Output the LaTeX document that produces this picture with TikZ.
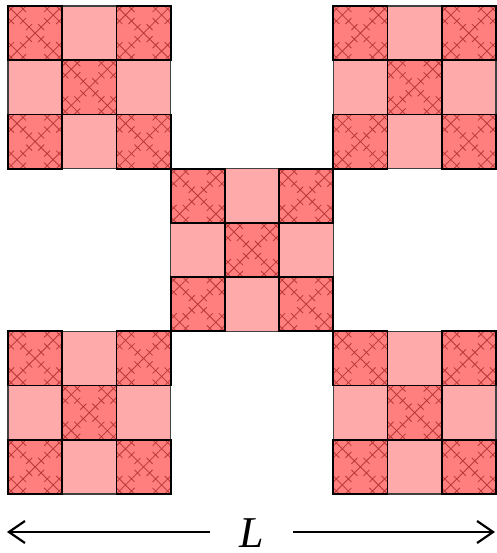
\documentclass[tikz,border=0pt]{standalone}
\usepackage{fontspec}
\setmainfont{Liberation Serif}
\usetikzlibrary{arrows.meta}
\definecolor{darkcell}{HTML}{FF7F7F}
\definecolor{lightcell}{HTML}{FFAAAA}
\definecolor{patcol}{HTML}{A82828}

\begin{document}
\begin{tikzpicture}[x=1pt,y=-1pt,
  dk/.style={fill=darkcell},
  dkline/.style={draw=black,line width=1.8pt},
  lt/.style={fill=lightcell,draw=black!75,line width=1.1pt},
  pat/.style={draw=patcol,line width=0.8pt,opacity=0.8},
  arr/.style={line width=2.2pt,-{Straight Barb[length=16pt,width=22pt]}},
]
\useasboundingbox (0,0) rectangle (496,553);
\def\s{54.22}
% five blocks of the X fractal
\foreach \bx/\by in {0/0,2/0,1/1,0/2,2/2}{
  % light cells
  \foreach \cx/\cy in {1/0,0/1,2/1,1/2}{
    \pgfmathsetmacro\xa{8+(3*\bx+\cx)*\s}
    \pgfmathsetmacro\ya{6+(3*\by+\cy)*\s}
    \draw[lt] (\xa,\ya) rectangle ++(\s,\s);
  }
  % dark cells with the small X pattern inside
  \foreach \cx/\cy in {0/0,2/0,1/1,0/2,2/2}{
    \pgfmathsetmacro\xa{8+(3*\bx+\cx)*\s}
    \pgfmathsetmacro\ya{6+(3*\by+\cy)*\s}
    \fill[dk] (\xa,\ya) rectangle ++(\s,\s);
    \foreach \px/\py in {0/0,2/0,1/1,0/2,2/2}
      \foreach \qx/\qy in {0/0,2/0,1/1,0/2,2/2}{
        \pgfmathsetmacro\xb{\xa+\px*\s/3+\qx*\s/9}
        \pgfmathsetmacro\yb{\ya+\py*\s/3+\qy*\s/9}
        \draw[pat] (\xb,\yb) -- ++(\s/9,\s/9) ++(-\s/9,0) -- ++(\s/9,-\s/9);
      }
    \draw[dkline] (\xa,\ya) rectangle ++(\s,\s);
  }
}

% length of the whole set
\node[font=\fontsize{44}{44}\selectfont\itshape,minimum width=83pt,inner sep=0pt] (L) at (251.5,533) {L};
\coordinate (lend) at (7,532);
\coordinate (rend) at (495,532);
\draw[arr] (L.west |- lend) -- (lend);
\draw[arr] (L.east |- rend) -- (rend);
\end{tikzpicture}
\end{document}
